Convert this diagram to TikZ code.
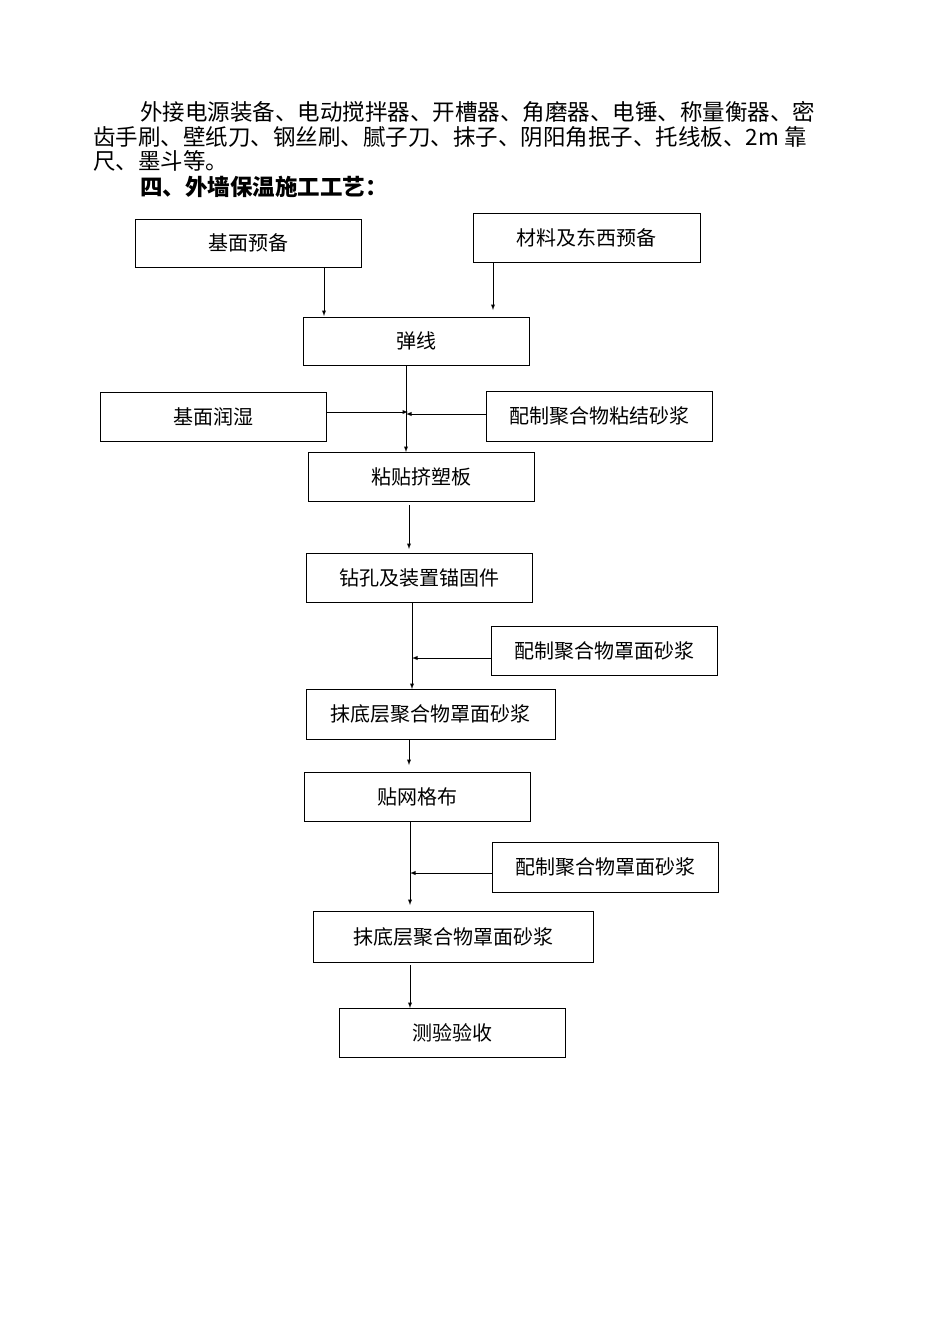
\documentclass[tikz,border=0pt]{standalone}
\usepackage{fontspec}
\setmainfont{Noto Sans CJK SC}
\begin{document}
\begin{tikzpicture}[x=1pt,y=-1pt,
  bx/.style={draw,line width=0.9pt,inner sep=0pt,font=\fontsize{20}{22}\selectfont},
  ar/.style={-latex,line width=0.9pt}]
\useasboundingbox (0,0) rectangle (950,1344);
\tikzset{tl/.style={anchor=west,inner sep=0pt,font=\fontsize{22.5}{24}\selectfont}}
\node[tl] (p1) at (140,112) {外接电源装备、电动搅拌器、开槽器、角磨器、电锤、称量衡器、密};
\node[tl] (p2) at (93,137) {齿手刷、壁纸刀、钢丝刷、腻子刀、抹子、阴阳角抿子、托线板、2m 靠};
\node[tl] (p3) at (93,161) {尺、墨斗等。};
\node[tl,font=\fontsize{22.5}{24}\selectfont\bfseries] (h) at (140,187) {四、外墙保温施工工艺：};
\newcommand\bxn[6]{\node[bx,minimum width=#4-#2,minimum height=#5-#3] (#1) at ({(#2+#4)/2},{(#3+#5)/2}) {#6};}
\bxn{a}{135}{219}{361}{267}{基面预备}
\bxn{b}{473}{213}{700}{262}{材料及东西预备}
\bxn{c}{303}{317}{529}{365}{弹线}
\bxn{d}{100}{392}{326}{441}{基面润湿}
\bxn{e}{486}{391}{712}{441}{配制聚合物粘结砂浆}
\bxn{f}{308}{452}{534}{501}{粘贴挤塑板}
\bxn{g}{306}{553}{532}{602}{钻孔及装置锚固件}
\bxn{h1}{491}{626}{717}{675}{配制聚合物罩面砂浆}
\bxn{i}{306}{689}{555}{739}{抹底层聚合物罩面砂浆}
\bxn{j}{304}{772}{530}{821}{贴网格布}
\bxn{k}{492}{842}{718}{892}{配制聚合物罩面砂浆}
\bxn{l}{313}{911}{593}{962}{抹底层聚合物罩面砂浆}
\bxn{m}{339}{1008}{565}{1057}{测验验收}
\draw[ar] (324,267) -- (324,316);
\draw[ar] (493,262) -- (493,310);
\draw[ar] (406,365) -- (406,452);
\draw[ar] (d.east |- 0,412) -- (408,412);
\draw[ar] (e.west |- 0,414) -- (406,414);
\draw[ar] (409,505) -- (409,549);
\draw[ar] (412,602) -- (412,689);
\draw[ar] (h1.west |- 0,658) -- (412,658);
\draw[ar] (409,739) -- (409,765);
\draw[ar] (410,821) -- (410,905);
\draw[ar] (k.west |- 0,873) -- (410,873);
\draw[ar] (410,965) -- (410,1008);
\end{tikzpicture}
\end{document}
